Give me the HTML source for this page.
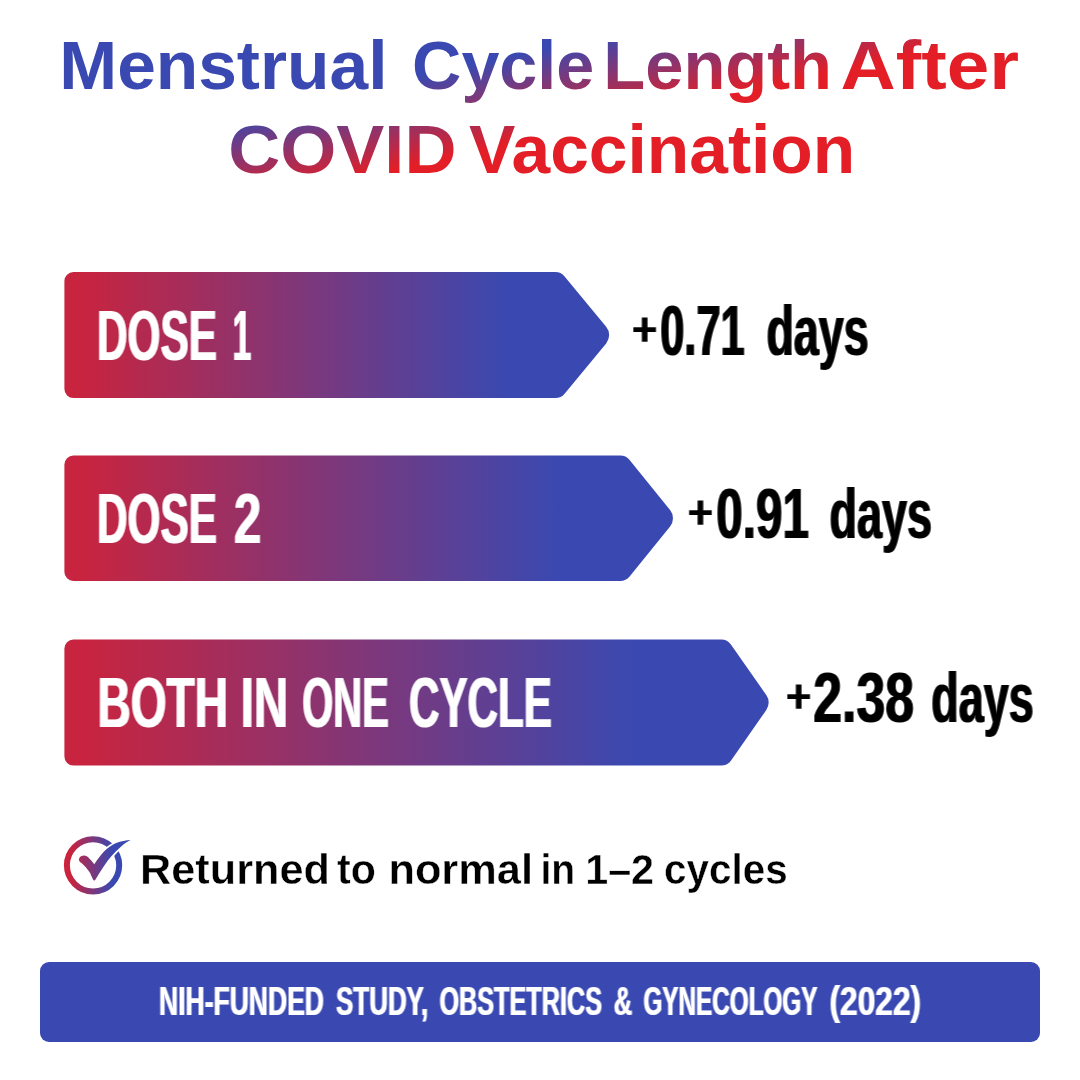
<!DOCTYPE html>
<html lang="en">
<head>
<meta charset="utf-8">
<title>Menstrual Cycle Length After COVID Vaccination</title>
<style>
html,body{margin:0;padding:0;background:#fff;}
body{width:1080px;height:1080px;overflow:hidden;}
svg{display:block;font-family:"Liberation Sans",sans-serif;font-weight:700;}
</style>
</head>
<body>
<svg width="1080" height="1080" viewBox="0 0 1080 1080">
<defs>
<filter id="hb" x="0" y="0" width="1080" height="1080" filterUnits="userSpaceOnUse" color-interpolation-filters="sRGB"><feMorphology in="SourceGraphic" operator="dilate" radius="1 0" result="d"/><feComposite in="d" in2="SourceGraphic" operator="arithmetic" k1="0" k2="0.65" k3="0.35" k4="0"/></filter>
<filter id="hb2" x="0" y="0" width="1080" height="1080" filterUnits="userSpaceOnUse" color-interpolation-filters="sRGB"><feMorphology in="SourceGraphic" operator="dilate" radius="1 0" result="d"/><feComposite in="d" in2="SourceGraphic" operator="arithmetic" k1="0" k2="0.45" k3="0.55" k4="0"/></filter>
<linearGradient id="tg" gradientUnits="userSpaceOnUse" x1="0" y1="169.33" x2="18.49" y2="252.56"><stop offset="0" stop-color="#3949B1"/><stop offset="1" stop-color="#E31E26"/></linearGradient>
<linearGradient id="bg0" gradientUnits="userSpaceOnUse" x1="80.9" y1="0" x2="508.8" y2="0"><stop offset="0" stop-color="#C8243F"/><stop offset="1" stop-color="#3949B1"/></linearGradient>
<linearGradient id="bg1" gradientUnits="userSpaceOnUse" x1="82.8" y1="0" x2="560.4" y2="0"><stop offset="0" stop-color="#C8243F"/><stop offset="1" stop-color="#3949B1"/></linearGradient>
<linearGradient id="bg2" gradientUnits="userSpaceOnUse" x1="85.6" y1="0" x2="637.2" y2="0"><stop offset="0" stop-color="#C8243F"/><stop offset="1" stop-color="#3949B1"/></linearGradient>
<linearGradient id="ig" gradientUnits="userSpaceOnUse" x1="70" y1="0" x2="112" y2="0"><stop offset="0" stop-color="#CB233D"/><stop offset="1" stop-color="#3949B1"/></linearGradient>
</defs>
<g id="title">
<text y="88.5" font-size="68.5" fill="url(#tg)"><tspan x="59.27" textLength="328.18" lengthAdjust="spacingAndGlyphs">Menstrual</tspan> <tspan x="412.07" textLength="182.23" lengthAdjust="spacingAndGlyphs">Cycle</tspan> <tspan x="603.33" textLength="228.66" lengthAdjust="spacingAndGlyphs">Length</tspan> <tspan x="840.56" textLength="178.47" lengthAdjust="spacingAndGlyphs">After</tspan></text>
<text y="172.5" font-size="68.5" fill="url(#tg)"><tspan x="228.22" textLength="228.23" lengthAdjust="spacingAndGlyphs">COVID</tspan> <tspan x="469.04" textLength="386.20" lengthAdjust="spacingAndGlyphs">Vaccination</tspan></text>
</g>
<g id="bars">
<path d="M64.40 281.10 A9 9 0 0 1 73.40 272.10 L555.35 272.10 A12 12 0 0 1 564.60 276.46 L606.17 326.82 A13 13 0 0 1 606.17 343.38 L564.60 393.74 A12 12 0 0 1 555.35 398.10 L73.40 398.10 A9 9 0 0 1 64.40 389.10 Z" fill="url(#bg0)"/>
<path d="M64.40 464.50 A9 9 0 0 1 73.40 455.50 L620.27 455.50 A12 12 0 0 1 629.60 459.96 L670.10 510.08 A13 13 0 0 1 670.10 526.42 L629.60 576.54 A12 12 0 0 1 620.27 581.00 L73.40 581.00 A9 9 0 0 1 64.40 572.00 Z" fill="url(#bg1)"/>
<path d="M64.40 648.50 A9 9 0 0 1 73.40 639.50 L721.24 639.50 A12 12 0 0 1 731.08 644.63 L766.31 695.11 A13 13 0 0 1 766.31 709.99 L731.08 760.47 A12 12 0 0 1 721.24 765.60 L73.40 765.60 A9 9 0 0 1 64.40 756.60 Z" fill="url(#bg2)"/>
</g>
<g id="rows" filter="url(#hb)">
<text y="359.7" font-size="70.1" fill="#fff"><tspan x="97.03" textLength="119.84" lengthAdjust="spacingAndGlyphs">DOSE</tspan> <tspan x="232.76" textLength="18.37" lengthAdjust="spacingAndGlyphs">1</tspan></text>
<text y="543.0" font-size="70.1" fill="#fff"><tspan x="97.03" textLength="119.84" lengthAdjust="spacingAndGlyphs">DOSE</tspan> <tspan x="234.02" textLength="27.27" lengthAdjust="spacingAndGlyphs">2</tspan></text>
<text y="726.6" font-size="70.1" fill="#fff"><tspan x="97.38" textLength="130.63" lengthAdjust="spacingAndGlyphs">BOTH</tspan> <tspan x="240.80" textLength="47.31" lengthAdjust="spacingAndGlyphs">IN</tspan> <tspan x="302.36" textLength="86.40" lengthAdjust="spacingAndGlyphs">ONE</tspan> <tspan x="408.96" textLength="142.94" lengthAdjust="spacingAndGlyphs">CYCLE</tspan></text>
<text y="354.9" font-size="70.1" fill="#000"><tspan x="632.72" dy="-10.2" font-size="45.7" font-weight="400" stroke="#000" stroke-width="1.6" textLength="23.89" lengthAdjust="spacingAndGlyphs">+</tspan><tspan x="660.21" textLength="84.58" lengthAdjust="spacingAndGlyphs" dy="10.2">0.71</tspan> <tspan x="766.45" textLength="102.31" lengthAdjust="spacingAndGlyphs">days</tspan></text>
<text y="537.9" font-size="70.1" fill="#000"><tspan x="688.62" dy="-10.2" font-size="45.7" font-weight="400" stroke="#000" stroke-width="1.6" textLength="23.89" lengthAdjust="spacingAndGlyphs">+</tspan><tspan x="716.35" textLength="92.55" lengthAdjust="spacingAndGlyphs" dy="10.2">0.91</tspan> <tspan x="829.45" textLength="102.52" lengthAdjust="spacingAndGlyphs">days</tspan></text>
<text y="721.9" font-size="70.1" fill="#000"><tspan x="786.82" dy="-10.2" font-size="45.7" font-weight="400" stroke="#000" stroke-width="1.6" textLength="23.89" lengthAdjust="spacingAndGlyphs">+</tspan><tspan x="813.33" textLength="100.66" lengthAdjust="spacingAndGlyphs" dy="10.2">2.38</tspan> <tspan x="931.35" textLength="102.41" lengthAdjust="spacingAndGlyphs">days</tspan></text>
</g>
<g id="note">
<circle cx="93.05" cy="865.3" r="26.15" fill="none" stroke="url(#ig)" stroke-width="6"/>
<path d="M94.3 864.2 C97 860 100.5 855.2 104 851.4 C108 847.5 112 845 116.2 843.1 C121 841.3 126 840.4 130.7 840.05 C127.5 841.6 124 844 121.2 846.4 C117.5 849.5 114 853.2 110.7 857 C106.5 862 103 867.5 100.1 872 C98 875.3 96.5 878 95.2 880 Q94 881.2 93 879.6 C91.5 876.5 90.5 874 90.1 873.1 C88.5 870.5 86 867.3 82.3 863.7 C81 862.6 80 861.8 79.6 861.4 C78 859.5 79.5 855.6 84 855.6 C86 855.6 87.5 856.6 88.4 857.6 C90 859.3 92.5 862 94.3 864.2 Z" fill="none" stroke="#fff" stroke-width="3.6" stroke-linejoin="round"/>
<path d="M94.3 864.2 C97 860 100.5 855.2 104 851.4 C108 847.5 112 845 116.2 843.1 C121 841.3 126 840.4 130.7 840.05 C127.5 841.6 124 844 121.2 846.4 C117.5 849.5 114 853.2 110.7 857 C106.5 862 103 867.5 100.1 872 C98 875.3 96.5 878 95.2 880 Q94 881.2 93 879.6 C91.5 876.5 90.5 874 90.1 873.1 C88.5 870.5 86 867.3 82.3 863.7 C81 862.6 80 861.8 79.6 861.4 C78 859.5 79.5 855.6 84 855.6 C86 855.6 87.5 856.6 88.4 857.6 C90 859.3 92.5 862 94.3 864.2 Z" fill="url(#ig)"/>
<text y="884.4" font-size="41.8" fill="#000" stroke="#fff" stroke-width="0.4"><tspan x="140.12" textLength="189.73" lengthAdjust="spacingAndGlyphs">Returned</tspan> <tspan x="337.05" textLength="38.81" lengthAdjust="spacingAndGlyphs">to</tspan> <tspan x="388.41" textLength="144.55" lengthAdjust="spacingAndGlyphs">normal</tspan> <tspan x="540.47" textLength="34.65" lengthAdjust="spacingAndGlyphs">in</tspan> <tspan x="585.18" textLength="68.90" lengthAdjust="spacingAndGlyphs">1–2</tspan> <tspan x="664.08" textLength="123.51" lengthAdjust="spacingAndGlyphs">cycles</tspan></text>
</g>
<g id="source">
<rect x="40" y="962" width="1000" height="80" rx="9" fill="#3949B1"/>
<g filter="url(#hb2)"><text y="1015.2" font-size="40.3" fill="#fff"><tspan x="159.08" textLength="164.87" lengthAdjust="spacingAndGlyphs">NIH-FUNDED</tspan> <tspan x="335.97" textLength="92.30" lengthAdjust="spacingAndGlyphs">STUDY,</tspan> <tspan x="439.44" textLength="162.57" lengthAdjust="spacingAndGlyphs">OBSTETRICS</tspan> <tspan x="613.74" textLength="18.54" lengthAdjust="spacingAndGlyphs">&amp;</tspan> <tspan x="643.48" textLength="173.49" lengthAdjust="spacingAndGlyphs">GYNECOLOGY</tspan> <tspan x="829.57" textLength="91.59" lengthAdjust="spacingAndGlyphs">(2022)</tspan></text></g>
</g>
</svg>
</body>
</html>
